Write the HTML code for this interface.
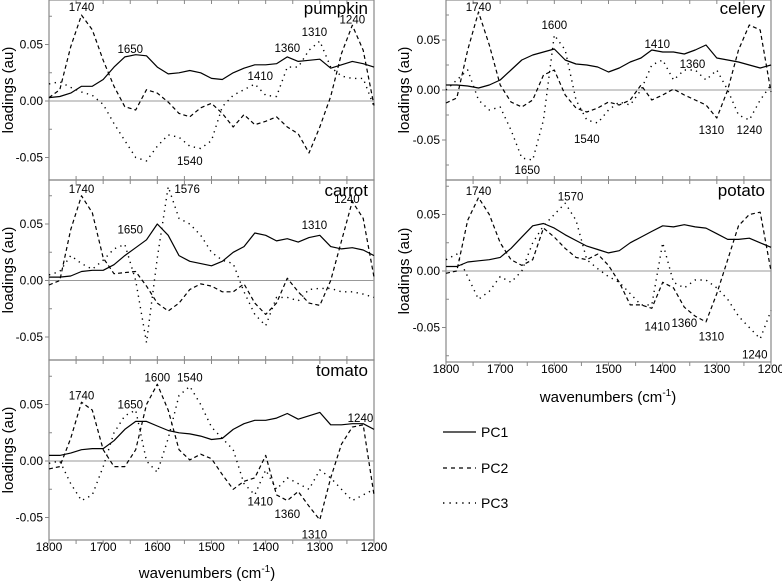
<!DOCTYPE html>
<html><head><meta charset="utf-8">
<style>
html,body{margin:0;padding:0;background:#fff;}
svg{display:block;font-family:"Liberation Sans",Arial,sans-serif;}
</style></head>
<body>
<svg id="chart" width="782" height="581" viewBox="0 0 782 581" xmlns="http://www.w3.org/2000/svg">
<g>
  <line x1="443" y1="432" x2="476" y2="432" stroke="#000" stroke-width="1.2"/>
  <text x="481" y="437" font-size="14">PC1</text>
  <line x1="443" y1="468" x2="476" y2="468" stroke="#000" stroke-width="1.2" stroke-dasharray="4,4"/>
  <text x="481" y="473" font-size="14">PC2</text>
  <line x1="443" y1="503" x2="476" y2="503" stroke="#000" stroke-width="1.4" stroke-dasharray="1.4,5"/>
  <text x="481" y="508" font-size="14">PC3</text>
</g>
</svg>
<script>
const wavenumbers = [1800,1780,1760,1740,1720,1700,1680,1660,1640,1620,1600,1580,1560,1540,1520,1500,1480,1460,1440,1420,1400,1380,1360,1340,1320,1300,1280,1260,1240,1220,1200];
const xTicks = [1800,1700,1600,1500,1400,1300,1200];
const yTicks = [0.05,0.00,-0.05];
const yTickLabels = ["0.05","0.00","-0.05"];

const pumpkinPC1 = [0.003,0.004,0.007,0.013,0.013,0.019,0.030,0.039,0.041,0.040,0.030,0.024,0.025,0.027,0.025,0.020,0.019,0.025,0.029,0.032,0.032,0.033,0.039,0.035,0.036,0.037,0.029,0.032,0.035,0.033,0.030];
const pumpkinPC2 = [0.003,0.010,0.048,0.076,0.063,0.036,0.013,-0.005,-0.008,0.010,0.007,-0.001,-0.011,-0.014,-0.006,-0.002,-0.011,-0.023,-0.012,-0.021,-0.018,-0.014,-0.023,-0.029,-0.046,-0.023,0.004,0.042,0.067,0.045,-0.004];
const pumpkinPC3 = [0.015,0.017,0.012,0.008,0.005,-0.003,-0.020,-0.035,-0.050,-0.053,-0.040,-0.030,-0.032,-0.040,-0.042,-0.035,-0.005,0.005,0.010,0.015,0.005,0.004,0.030,0.030,0.045,0.053,0.030,0.022,0.020,0.020,-0.005];

const carrotPC1 = [0.003,0.003,0.004,0.008,0.009,0.009,0.014,0.022,0.029,0.036,0.050,0.040,0.022,0.017,0.015,0.013,0.017,0.025,0.030,0.042,0.040,0.035,0.037,0.034,0.038,0.040,0.030,0.028,0.029,0.027,0.022];
const carrotPC2 = [-0.004,0.000,0.045,0.075,0.060,0.020,0.006,0.007,0.008,-0.005,-0.020,-0.027,-0.020,-0.008,-0.003,-0.005,-0.010,-0.010,-0.003,-0.020,-0.030,-0.020,0.002,-0.010,-0.020,-0.022,0.000,0.035,0.070,0.055,0.003];
const carrotPC3 = [0.005,0.008,0.022,0.015,0.010,0.018,0.028,0.032,0.000,-0.055,0.020,0.083,0.055,0.050,0.040,0.025,0.018,0.015,-0.010,-0.030,-0.040,-0.015,-0.015,-0.018,-0.008,-0.007,-0.007,-0.010,-0.010,-0.012,-0.015];

const tomatoPC1 = [0.005,0.005,0.007,0.010,0.011,0.011,0.018,0.028,0.035,0.035,0.031,0.027,0.025,0.024,0.022,0.019,0.020,0.028,0.033,0.036,0.036,0.038,0.042,0.037,0.040,0.043,0.032,0.032,0.033,0.033,0.028];
const tomatoPC2 = [-0.007,-0.005,0.020,0.052,0.045,0.010,-0.005,-0.005,0.010,0.050,0.068,0.045,0.010,0.001,0.006,0.002,-0.012,-0.025,-0.018,-0.015,0.005,-0.030,-0.035,-0.027,-0.040,-0.052,-0.015,0.015,0.030,0.032,-0.030];
const tomatoPC3 = [-0.002,0.000,-0.020,-0.035,-0.030,-0.005,0.025,0.040,0.045,0.000,-0.010,0.020,0.058,0.066,0.050,0.030,0.020,0.010,-0.020,-0.030,-0.008,-0.025,-0.015,-0.020,-0.025,-0.008,-0.015,-0.025,-0.035,-0.030,-0.025];

const celeryPC1 = [0.005,0.005,0.004,0.002,0.005,0.010,0.020,0.030,0.035,0.038,0.041,0.030,0.026,0.025,0.023,0.018,0.022,0.028,0.032,0.040,0.038,0.038,0.036,0.040,0.045,0.032,0.030,0.028,0.025,0.022,0.025];
const celeryPC2 = [-0.013,-0.008,0.040,0.078,0.045,0.005,-0.012,-0.017,-0.010,0.015,0.020,-0.005,-0.018,-0.022,-0.018,-0.012,-0.015,-0.010,0.005,-0.010,-0.005,0.001,-0.005,-0.010,-0.015,-0.028,0.000,0.040,0.065,0.060,-0.002];
const celeryPC3 = [0.000,0.010,0.020,-0.010,-0.020,-0.017,-0.040,-0.068,-0.070,-0.030,0.055,0.040,-0.010,-0.030,-0.033,-0.020,-0.012,-0.015,0.000,0.025,0.030,0.010,0.020,0.020,0.010,0.020,0.000,-0.025,-0.030,-0.010,0.005];

const potatoPC1 = [0.004,0.004,0.008,0.009,0.010,0.012,0.020,0.030,0.040,0.042,0.038,0.032,0.027,0.022,0.019,0.016,0.018,0.025,0.030,0.035,0.040,0.039,0.041,0.039,0.038,0.033,0.028,0.028,0.029,0.025,0.021];
const potatoPC2 = [-0.002,0.000,0.045,0.065,0.050,0.025,0.010,0.005,0.010,0.038,0.030,0.020,0.012,0.010,0.015,0.005,-0.010,-0.030,-0.030,-0.033,-0.010,-0.015,-0.032,-0.040,-0.045,-0.020,0.010,0.040,0.050,0.052,0.000];
const potatoPC3 = [0.010,0.015,-0.005,-0.025,-0.018,-0.005,-0.010,0.000,0.025,0.040,0.050,0.060,0.045,0.010,0.002,-0.005,-0.010,-0.020,-0.030,-0.030,0.025,-0.010,-0.015,-0.008,-0.008,-0.015,-0.025,-0.040,-0.050,-0.060,-0.035];

const pumpkinNotes = [["1740",1740,0.083],["1650",1650,0.046],["1360",1360,0.047],["1310",1310,0.061],["1240",1240,0.072],["1410",1410,0.022],["1540",1540,-0.053]];
const carrotNotes = [["1740",1740,0.081],["1650",1650,0.045],["1576",1545,0.081],["1310",1310,0.049],["1240",1250,0.072]];
const tomatoNotes = [["1740",1740,0.058],["1650",1650,0.050],["1600",1600,0.074],["1540",1540,0.074],["1240",1225,0.038],["1410",1410,-0.036],["1360",1360,-0.047],["1310",1310,-0.065]];
const celeryNotes = [["1740",1740,0.083],["1600",1600,0.065],["1410",1410,0.046],["1360",1345,0.026],["1310",1310,-0.040],["1240",1240,-0.040],["1540",1540,-0.049],["1650",1650,-0.080]];
const potatoNotes = [["1740",1740,0.071],["1570",1570,0.066],["1410",1410,-0.049],["1360",1360,-0.046],["1310",1310,-0.058],["1240",1230,-0.074]];

const NS = "http://www.w3.org/2000/svg";
const svg = document.getElementById("chart");
function mk(tag, attrs, parent){ const e=document.createElementNS(NS,tag); for(const k in attrs) e.setAttribute(k,attrs[k]); (parent||svg).appendChild(e); return e; }

function panel(cfg){
  const g = mk("g",{});
  
  
  const xs = w => cfg.x0 + (1800 - w) / 600 * (cfg.x1 - cfg.x0);
  const ys = v => cfg.zeroY - v / 0.05 * cfg.unit;
  const fr = mk("rect",{x:cfg.x0,y:cfg.top,width:cfg.x1-cfg.x0,height:cfg.bottom-cfg.top,fill:"none",stroke:"#888","stroke-width":1.2},g);
  
  
  const zl = mk("line",{x1:cfg.x0,x2:cfg.x1,y1:ys(0),y2:ys(0),stroke:"#999","stroke-width":1},g);
  
  
  for(let w=1800; w>=1200; w-=50){
    const x = xs(w);
    mk("line",{x1:x,x2:x,y1:cfg.bottom,y2:cfg.bottom+(cfg.xlabels?4:-4),stroke:"#888"},g);
    mk("line",{x1:x,x2:x,y1:cfg.top,y2:cfg.top+4,stroke:"#888"},g);
  }
  yTicks.forEach((v,i)=>{
    const y = ys(v);
    mk("line",{x1:cfg.x0-4,x2:cfg.x0,y1:y,y2:y,stroke:"#888"},g);
    const t = mk("text",{x:cfg.x0-6,y:y+4,"font-size":12,"text-anchor":"end"},g);
    t.textContent = yTickLabels[i];
    
    
  });
  [0.075,0.025,-0.025,-0.075].forEach(v=>{
    const y = ys(v);
    if(y>cfg.top && y<cfg.bottom) mk("line",{x1:cfg.x0,x2:cfg.x0+3,y1:y,y2:y,stroke:"#888"},g);
  });
  if(cfg.xlabels){
    xTicks.forEach(w=>{
      const t = mk("text",{x:xs(w),y:cfg.bottom+11,"font-size":12,"text-anchor":"middle"},g);
      t.textContent = String(w);
      
      
    });
  }
  const styles = [
    ["pc1", cfg.pc1, {stroke:"#000","stroke-width":1.2}],
    ["pc2", cfg.pc2, {stroke:"#000","stroke-width":1.2,"stroke-dasharray":"4,3"}],
    ["pc3", cfg.pc3, {stroke:"#000","stroke-width":1.4,"stroke-dasharray":"1.3,4.5"}]
  ];
  styles.forEach(([nm,vals,st])=>{
    let d="";
    vals.forEach((v,i)=>{ d += (i?"L":"M") + xs(wavenumbers[i]).toFixed(1) + "," + ys(v).toFixed(1); });
    const p = mk("path",Object.assign({d:d,fill:"none","stroke-linejoin":"round"},st),g);
    
    
  });
  cfg.notes.forEach(n=>{
    const t = mk("text",{x:xs(n[1]),y:ys(n[2])+4,"font-size":11.5,"text-anchor":"middle"},g);
    t.textContent = n[0];
    
    
  });
  const tl = mk("text",{x:cfg.x1-6,y:cfg.top+(cfg.top===0?14:16),"font-size":17,"text-anchor":"end"},g);
  tl.textContent = cfg.name;
  
  
}

panel({name:"pumpkin",x0:49,x1:374,top:0,bottom:180,zeroY:101,unit:56.5,pc1:pumpkinPC1,pc2:pumpkinPC2,pc3:pumpkinPC3,notes:pumpkinNotes,xlabels:false});
panel({name:"carrot",x0:49,x1:374,top:180,bottom:360,zeroY:280.5,unit:56.5,pc1:carrotPC1,pc2:carrotPC2,pc3:carrotPC3,notes:carrotNotes,xlabels:false});
panel({name:"tomato",x0:49,x1:374,top:360,bottom:540,zeroY:461,unit:56.5,pc1:tomatoPC1,pc2:tomatoPC2,pc3:tomatoPC3,notes:tomatoNotes,xlabels:true});
panel({name:"celery",x0:446,x1:771,top:0,bottom:180,zeroY:90,unit:50,pc1:celeryPC1,pc2:celeryPC2,pc3:celeryPC3,notes:celeryNotes,xlabels:false});
panel({name:"potato",x0:446,x1:771,top:180,bottom:362,zeroY:271,unit:56.5,pc1:potatoPC1,pc2:potatoPC2,pc3:potatoPC3,notes:potatoNotes,xlabels:true});

function axisTitle(name, x, y, rot, txt, sup){
  const t = mk("text",{x:x,y:y,"font-size":15,"text-anchor":"middle",transform:rot?`rotate(-90 ${x} ${y})`:""});
  
  
  t.textContent = txt;
  if(sup){
    const s = mk("tspan",{dy:-6,"font-size":10},t); s.textContent = "-1";
    const s2 = mk("tspan",{dy:6},t); s2.textContent = ")";
  }
}
axisTitle("y-axis-title-pumpkin",13,90,true,"loadings (au)");
axisTitle("y-axis-title-carrot",13,270,true,"loadings (au)");
axisTitle("y-axis-title-tomato",13,450,true,"loadings (au)");
axisTitle("y-axis-title-celery",409,90,true,"loadings (au)");
axisTitle("y-axis-title-potato",409,271,true,"loadings (au)");
axisTitle("x-axis-title-left",207,578,false,"wavenumbers (cm",true);
axisTitle("x-axis-title-right",608,402,false,"wavenumbers (cm",true);
</script>
</body></html>
